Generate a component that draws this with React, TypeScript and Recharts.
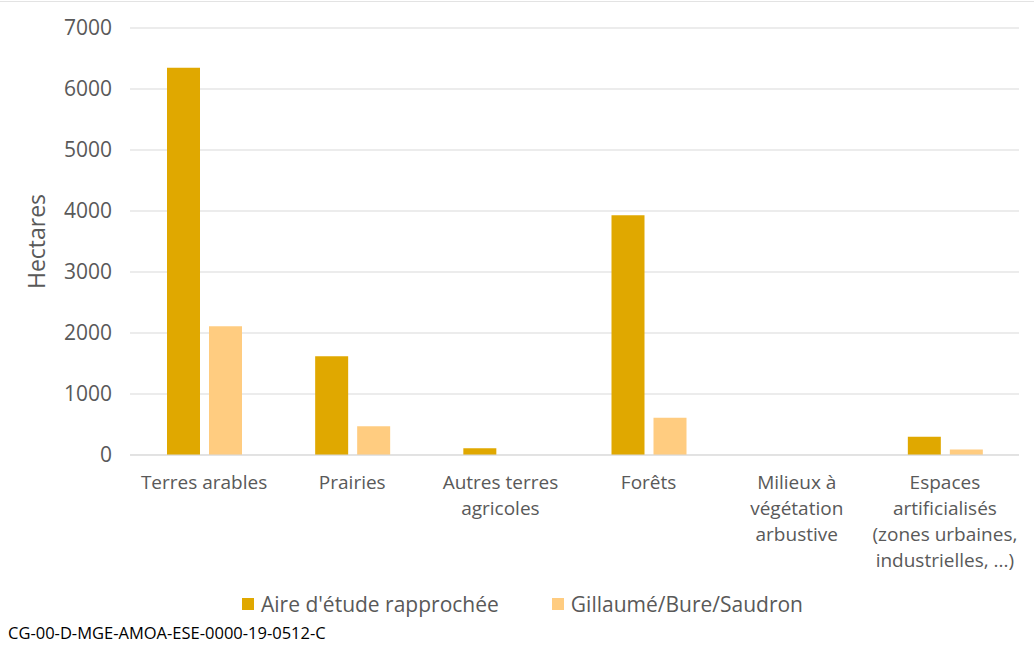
import * as React from "react"
import { BarChart, Bar, XAxis, YAxis, CartesianGrid, Legend } from "recharts"

document.body.style.margin = "0"

const categories = [
  "Terres arables",
  "Prairies",
  "Autres terres\nagricoles",
  "Forêts",
  "Milieux à\nvégétation\narbustive",
  "Espaces\nartificialisés\n(zones urbaines,\nindustrielles, ...)",
]
const aireEtude = [6350, 1620, 110, 3930, 0, 300]
const gillaume = [2110, 470, 0, 610, 0, 90]
const yTicks = [0, 1000, 2000, 3000, 4000, 5000, 6000, 7000]

const series = [
  { key: "aire", name: "Aire d'étude rapprochée", color: "#E0A800" },
  { key: "gillaume", name: "Gillaumé/Bure/Saudron", color: "#FFCC80" },
]

const data = categories.map((name, i) => ({
  name,
  aire: aireEtude[i],
  gillaume: gillaume[i],
}))

const TEXT = "#595959"
const FONT = "'Open Sans', sans-serif"

function CategoryTick({ x, y, payload }: any) {
  const lines = String(payload.value).split("\n")
  return (
    <text x={x} y={y} textAnchor="middle" fill={TEXT} fontSize={19} fontFamily={FONT}>
      {lines.map((line, i) => (
        <tspan key={i} x={x} dy={26}>
          {line}
        </tspan>
      ))}
    </text>
  )
}

function LegendContent() {
  return (
    <div
      style={{
        display: "flex",
        justifyContent: "center",
        gap: 53,
        paddingLeft: 24,
        fontFamily: FONT,
        fontSize: 21,
        color: TEXT,
      }}
    >
      {series.map((s) => (
        <div key={s.key} style={{ display: "flex", alignItems: "center" }}>
          <span style={{ width: 12, height: 12, background: s.color, display: "inline-block", marginRight: 7 }} />
          <span>{s.name}</span>
        </div>
      ))}
    </div>
  )
}

export default function App() {
  return (
    <div style={{ position: "relative", width: 1034, height: 648, background: "#fff", fontFamily: FONT }}>
      <div style={{ position: "absolute", top: 1, left: 0, width: 1034, borderTop: "1px solid #e3e3e3" }} />
      <BarChart
        width={1034}
        height={648}
        data={data}
        margin={{ top: 28, right: 15, left: 2, bottom: 35 }}
        barSize={33}
        barGap={9}
      >
        <CartesianGrid vertical={false} stroke="#d9d9d9" />
        <XAxis
          dataKey="name"
          interval={0}
          tickLine={false}
          axisLine={{ stroke: "#d9d9d9" }}
          tick={<CategoryTick />}
          height={130}
        />
        <YAxis
          domain={[0, 7000]}
          ticks={yTicks}
          axisLine={false}
          tickLine={false}
          tickMargin={12}
          width={128}
          tick={{ fill: TEXT, fontSize: 21, fontFamily: FONT }}
          label={{
            value: "Hectares",
            angle: -90,
            position: "insideLeft",
            dx: 30,
            style: { fill: TEXT, fontSize: 23, fontFamily: FONT, textAnchor: "middle" },
          }}
        />
        <Legend verticalAlign="bottom" content={<LegendContent />} wrapperStyle={{ bottom: 30 }} />
        {series.map((s) => (
          <Bar key={s.key} dataKey={s.key} name={s.name} fill={s.color} isAnimationActive={false} />
        ))}
      </BarChart>
      <div style={{ position: "absolute", left: 8, top: 621, fontSize: 16.5, color: "#000", fontFamily: FONT }}>
        CG-00-D-MGE-AMOA-ESE-0000-19-0512-C
      </div>
    </div>
  )
}
